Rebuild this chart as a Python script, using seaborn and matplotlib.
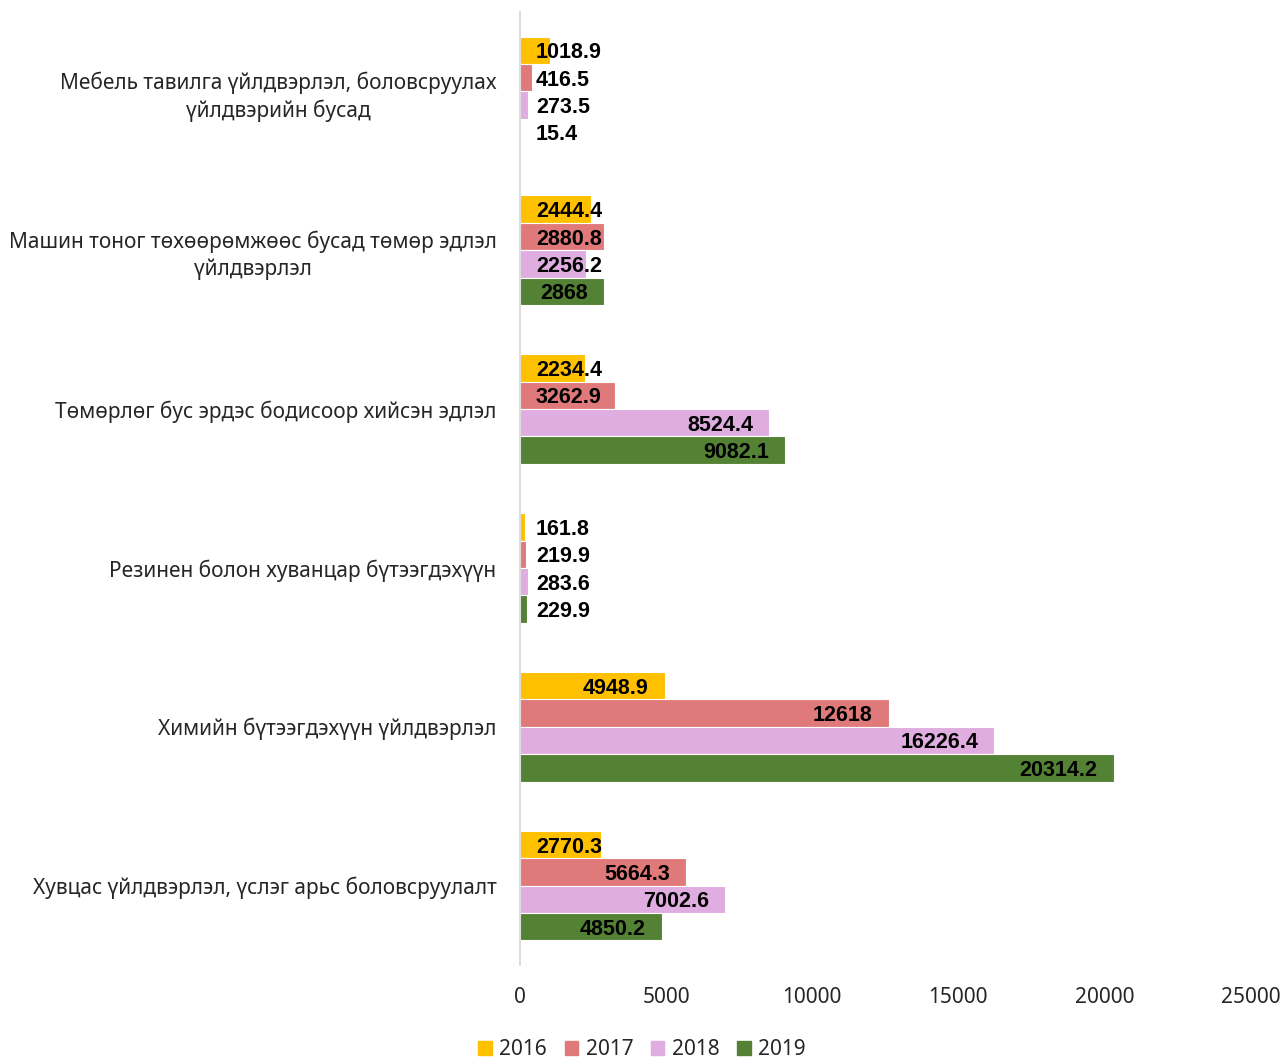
import pandas as pd
import matplotlib.pyplot as plt
import seaborn as sns

categories = [
    "Мебель тавилга үйлдвэрлэл, боловсруулах\nүйлдвэрийн бусад",
    "Машин тоног төхөөрөмжөөс бусад төмөр эдлэл\nүйлдвэрлэл",
    "Төмөрлөг бус эрдэс бодисоор хийсэн эдлэл",
    "Резинен болон хуванцар бүтээгдэхүүн",
    "Химийн бүтээгдэхүүн үйлдвэрлэл",
    "Хувцас үйлдвэрлэл, үслэг арьс боловсруулалт",
]
years = ["2016", "2017", "2018", "2019"]
v2016 = [1018.9, 2444.4, 2234.4, 161.8, 4948.9, 2770.3]
v2017 = [416.5, 2880.8, 3262.9, 219.9, 12618, 5664.3]
v2018 = [273.5, 2256.2, 8524.4, 283.6, 16226.4, 7002.6]
v2019 = [15.4, 2868, 9082.1, 229.9, 20314.2, 4850.2]
colors = ["#FFC000", "#E07A7A", "#DFADDF", "#548235"]

series = [v2016, v2017, v2018, v2019]
rows = []
for yr, vals in zip(years, series):
    for cat, v in zip(categories, vals):
        rows.append({"category": cat, "year": yr, "value": v})
df = pd.DataFrame(rows)

sns.set_style("white")
plt.rcParams["font.family"] = ["Noto Sans", "DejaVu Sans"]

fig = plt.figure(figsize=(12.84, 10.60), dpi=100)
ax = fig.add_axes([0.405, 0.0896, 0.569, 0.8991])

sns.barplot(data=df, x="value", y="category", hue="year", orient="h",
            palette=colors, saturation=1, width=0.69, edgecolor="white",
            linewidth=0.8, ax=ax, legend=False)

ax.set_xlim(0, 25000)
ax.set_xticks([0, 5000, 10000, 15000, 20000, 25000])
ax.set_xlabel("")
ax.set_ylabel("")
for s in ["top", "right", "bottom"]:
    ax.spines[s].set_visible(False)
ax.spines["left"].set_color("#D9D9D9")
ax.spines["left"].set_linewidth(1.3)
ax.tick_params(axis="x", length=0, pad=16, labelsize=15, colors="#262626")
ax.tick_params(axis="y", length=0, pad=17, labelsize=15, colors="#262626")
for t in ax.get_yticklabels():
    t.set_multialignment("center")
    t.set_linespacing(1.3)

# value labels: inside end, but never closer than 16px to the axis
texts = []
for cont, vals in zip(ax.containers, series):
    for bar, v in zip(cont, vals):
        yc = bar.get_y() + bar.get_height() / 2
        t = ax.annotate(f"{v:g}", xy=(bar.get_width(), yc), xytext=(-11.5, 0),
                        textcoords="offset points", ha="right",
                        va="center_baseline", fontsize=15.5, fontweight="bold",
                        family=["Liberation Sans", "DejaVu Sans"], color="black")
        texts.append(t)

fig.canvas.draw()
r = fig.canvas.get_renderer()
x0_ax = ax.get_window_extent(r).x0
for t in texts:
    bb = t.get_window_extent(r)
    if bb.x0 < x0_ax + 16:
        t.xy = (0, t.xy[1])
        t.set_position((11.5, 0))
        t.set_ha("left")

handles = [plt.Rectangle((0, 0), 1, 1, color=c) for c in colors]
fig.legend(handles, years, loc="lower center", bbox_to_anchor=(0.5, -0.018),
           ncol=4, frameon=False, fontsize=15, handlelength=0.65,
           handleheight=0.65, handletextpad=0.35, columnspacing=0.85)

fig.savefig("out.png", dpi=100)
